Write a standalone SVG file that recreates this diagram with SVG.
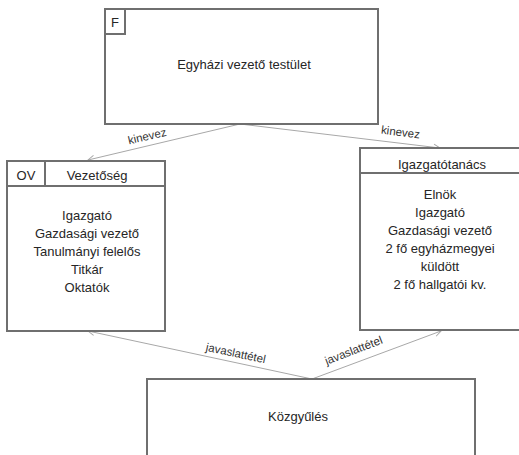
<svg xmlns="http://www.w3.org/2000/svg" width="519" height="455" viewBox="0 0 519 455">
<defs>
<style>
.box{fill:#fff;stroke:#6f6f6f;stroke-width:2}
.ln{fill:none;stroke:#6f6f6f;stroke-width:2}
.con{fill:none;stroke:#a8a8a8;stroke-width:1}
text{font-family:"Liberation Sans",Arial,sans-serif;font-size:13px;fill:#262626;text-anchor:middle}
.lbl{font-size:11.5px;fill:#333}
</style>
<marker id="arr" viewBox="0 0 10 10" refX="9" refY="5" markerWidth="8" markerHeight="8" markerUnits="userSpaceOnUse" orient="auto">
<path d="M1,1 L9,5 L1,9" fill="none" stroke="#a8a8a8" stroke-width="1.2"/>
</marker>
</defs>
<rect width="519" height="455" fill="#fff"/>
<g id="connectors">
<line class="con" x1="240" y1="124" x2="88" y2="160" marker-end="url(#arr)"/>
<line class="con" x1="240" y1="124" x2="440" y2="148" marker-end="url(#arr)"/>
<line class="con" x1="312" y1="379" x2="88" y2="331" marker-end="url(#arr)"/>
<line class="con" x1="312" y1="379" x2="441" y2="331" marker-end="url(#arr)"/>
<text class="lbl" transform="translate(148,140) rotate(-13)">kinevez</text>
<text class="lbl" transform="translate(400,136) rotate(7)">kinevez</text>
<text class="lbl" transform="translate(235,357) rotate(12)">javaslattétel</text>
<text class="lbl" transform="translate(355,354) rotate(-21)">javaslattétel</text>
</g>
<g id="node-egyhazi">
<rect class="box" x="105" y="9" width="273" height="115"/>
<rect class="box" x="105" y="9" width="20" height="25"/>
<text x="115" y="27">F</text>
<text x="244" y="69">Egyházi vezető testület</text>
</g>
<g id="node-vezetoseg">
<rect class="box" x="7" y="161" width="158" height="170"/>
<line class="ln" x1="7" y1="186" x2="165" y2="186"/>
<line class="ln" x1="45" y1="161" x2="45" y2="186"/>
<text x="26" y="180">OV</text>
<text x="97" y="180">Vezetőség</text>
<text x="87" y="220">Igazgató</text>
<text x="87" y="238">Gazdasági vezető</text>
<text x="87" y="256">Tanulmányi felelős</text>
<text x="87" y="274">Titkár</text>
<text x="87" y="292">Oktatók</text>
</g>
<g id="node-igazgatotanacs">
<rect class="box" x="360" y="148" width="170" height="182"/>
<line class="ln" x1="360" y1="173" x2="519" y2="173"/>
<text x="442" y="169">Igazgatótanács</text>
<text x="440" y="199">Elnök</text>
<text x="440" y="217">Igazgató</text>
<text x="440" y="235">Gazdasági vezető</text>
<text x="440" y="253">2 fő egyházmegyei</text>
<text x="440" y="271">küldött</text>
<text x="440" y="289">2 fő hallgatói kv.</text>
</g>
<g id="node-kozgyules">
<rect class="box" x="147" y="379" width="328" height="100"/>
<text x="298" y="421">Közgyűlés</text>
</g>
</svg>
